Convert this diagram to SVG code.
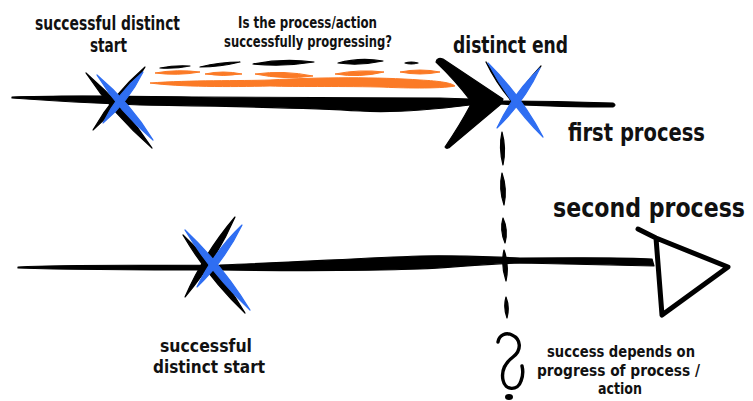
<svg xmlns="http://www.w3.org/2000/svg" width="753" height="401" viewBox="0 0 753 401">
  <style>
    .ink { fill: #000; stroke: #000; stroke-width: 1.2; stroke-linejoin: round; }
    .blue { fill: #2f6ef2; stroke: #2f6ef2; stroke-width: 1.2; stroke-linejoin: round; }
    .orange { fill: #fb7a26; stroke: #fb7a26; stroke-width: 1; stroke-linejoin: round; }
    .label { font-family: "Liberation Sans Narrow", "DejaVu Sans Condensed", "Liberation Sans", sans-serif; font-weight: bold; fill: #111; }
    .hollow { fill: none; stroke: #000; stroke-width: 5; stroke-linejoin: round; stroke-linecap: round; }
  </style>

  <!-- brushed process lines and dashed dependency line -->
  <g id="connectors">
    <!-- first process line -->
    <path class="ink" d="M12,97 C60,95 120,96 200,97 C300,98 380,98 440,98 L500,100 L470,105 C430,110 390,113 360,111 C300,107 200,106 140,105 C90,103 40,100 12,98 Z"/>
    <path class="ink" d="M498,101 C540,101 580,102 613,103 Q617,105 613,107 C580,107 540,106 498,104 Z"/>
    <!-- first process filled chevron arrowhead -->
    <path class="ink" d="M436,62 Q437,57 443,59 L503,99 L501,104 L451,146 Q447,150 445,147 Q460,125 470,106 L470,100 Q455,80 436,62 Z"/>

    <!-- second process line -->
    <path class="ink" d="M18,267 C80,264 150,266 220,265 C300,262 360,258 420,256 C460,255 490,257 520,258 C570,258 620,257 652,259 L654,266 C620,265 570,264 520,263 C480,264 450,268 420,269 C360,271 300,271 220,270 C150,270 80,270 18,268 Z"/>
    <!-- second process hollow arrowhead -->
    <path class="hollow" d="M638,229 L656,238 L728,267 L662,315 L656,238"/>

    <!-- dashed dependency line -->
    <path class="ink" d="M502,132 Q506.5,148 503,165 Q498.5,148 502,132 Z"/>
    <path class="ink" d="M502,173 Q507.5,189 504,205 Q498.5,189 502,173 Z"/>
    <path class="ink" d="M503,218 Q508.5,230 505,243 Q499.5,230 503,218 Z"/>
    <path class="ink" d="M504,250 Q509.5,265 506,281 Q500.5,265 504,250 Z"/>
    <path class="ink" d="M506,297 Q510,307 507,318 Q503,307 506,297 Z"/>
    <path d="M498,342 C499,335 506,332 512,335 C521,339 522,350 513,357 C505,363 501,370 503,380 C505,391 518,391 521,381 C523,376 523,370 522,366" fill="none" stroke="#000" stroke-width="3.4" stroke-linecap="round"/>
    <ellipse cx="509" cy="397" rx="4" ry="3" fill="#000"/>
  </g>

  <!-- progress strokes between start and end -->
  <g id="progress">
    <path class="ink" d="M160,68 Q175,65 190,66 Q175,69 160,68 Z"/>
    <path class="ink" d="M200,67 Q220,62 240,62 Q220,67 200,67 Z"/>
    <path class="ink" d="M253,64 Q283,58 314,62 Q284,67 253,64 Z"/>
    <path class="ink" d="M338,63 Q360,57 383,61 Q360,66 338,63 Z"/>
    <path class="ink" d="M405,63 Q411,61 418,63 Q411,65 405,63 Z"/>

    <path class="orange" d="M155,73 Q177,69 200,72 Q178,76 155,73 Z"/>
    <path class="orange" d="M205,74 Q223,70 242,74 Q223,77 205,74 Z"/>
    <path class="orange" d="M255,74 Q284,70 313,76 Q284,80 255,74 Z"/>
    <path class="orange" d="M335,74 Q360,69 384,72 Q360,78 335,74 Z"/>
    <path class="orange" d="M400,72 Q420,68 440,72 Q420,76 400,72 Z"/>
    <path class="orange" d="M150,83 C190,80 240,81 270,80 C320,77 380,77 420,80 C440,81 452,83 455,86 C440,89 400,88 380,87 C330,86 300,87 270,86 C230,87 180,87 150,83 Z"/>
  </g>

  <!-- first process: start cross -->
  <g id="first-start">
    <path class="ink" d="M86,73 Q113.7,115.1 152,148 Q124.3,105.9 86,73 Z"/>
    <path class="ink" d="M145,67 Q113.6,94.05 93,130 Q124.4,102.95 145,67 Z"/>
    <path class="blue" d="M97,75 Q119.7,112.1 153,140 Q130.3,102.9 97,75 Z"/>
    <path class="blue" d="M143,72 Q117.5,93.2 103,123 Q128.5,101.8 143,72 Z"/>
  </g>

  <!-- first process: end cross -->
  <g id="first-end">
    <path class="ink" d="M486,62 Q497,85 514,104 Q501,82 486,62 Z"/>
    <path class="ink" d="M541,66 Q528,86 512,105 Q524,84 541,66 Z"/>
    <path class="blue" d="M488,63 Q509.9,104.2 543,137 Q521.1,95.8 488,63 Z"/>
    <path class="blue" d="M540,68 Q512.8,93.9 497,128 Q524.2,102.1 540,68 Z"/>
  </g>

  <!-- second process: start cross -->
  <g id="second-start">
    <path class="ink" d="M183,235 Q208.5,278.4 245,313 Q219.5,269.6 183,235 Z"/>
    <path class="ink" d="M235,217 Q204.1,253.3 185,297 Q215.9,260.7 235,217 Z"/>
    <path class="blue" d="M185,230 Q212.1,274.4 250,310 Q222.9,265.6 185,230 Z"/>
    <path class="blue" d="M242,225 Q213.8,251.9 197,287 Q225.2,260.1 242,225 Z"/>
  </g>

  <!-- labels -->
  <g id="label-first-start">
    <text class="label" x="35" y="30" font-size="19" textLength="145" lengthAdjust="spacingAndGlyphs">successful distinct</text>
    <text class="label" x="90" y="52" font-size="19" textLength="37" lengthAdjust="spacingAndGlyphs">start</text>
  </g>
  <g id="label-question">
    <text class="label" x="238" y="28" font-size="15" textLength="139" lengthAdjust="spacingAndGlyphs">Is the process/action</text>
    <text class="label" x="224" y="47" font-size="15" textLength="168" lengthAdjust="spacingAndGlyphs">successfully progressing?</text>
  </g>
  <g id="label-first-end">
    <text class="label" x="453" y="53" font-size="23" textLength="115" lengthAdjust="spacingAndGlyphs">distinct end</text>
  </g>
  <g id="label-first-process">
    <text class="label" x="568" y="141" font-size="25" textLength="137" lengthAdjust="spacingAndGlyphs">first process</text>
  </g>
  <g id="label-second-process">
    <text class="label" x="745" y="217" font-size="26" text-anchor="end" textLength="192" lengthAdjust="spacingAndGlyphs">second process</text>
  </g>
  <g id="label-second-start">
    <text class="label" x="160" y="352" font-size="18" textLength="92" lengthAdjust="spacingAndGlyphs">successful</text>
    <text class="label" x="153" y="373" font-size="18" textLength="112" lengthAdjust="spacingAndGlyphs">distinct start</text>
  </g>
  <g id="label-dependency">
    <text class="label" x="547" y="357" font-size="16" textLength="148" lengthAdjust="spacingAndGlyphs">success depends on</text>
    <text class="label" x="537" y="375.5" font-size="16" textLength="163" lengthAdjust="spacingAndGlyphs">progress of process /</text>
    <text class="label" x="598" y="394" font-size="15" textLength="44" lengthAdjust="spacingAndGlyphs">action</text>
  </g>
</svg>
